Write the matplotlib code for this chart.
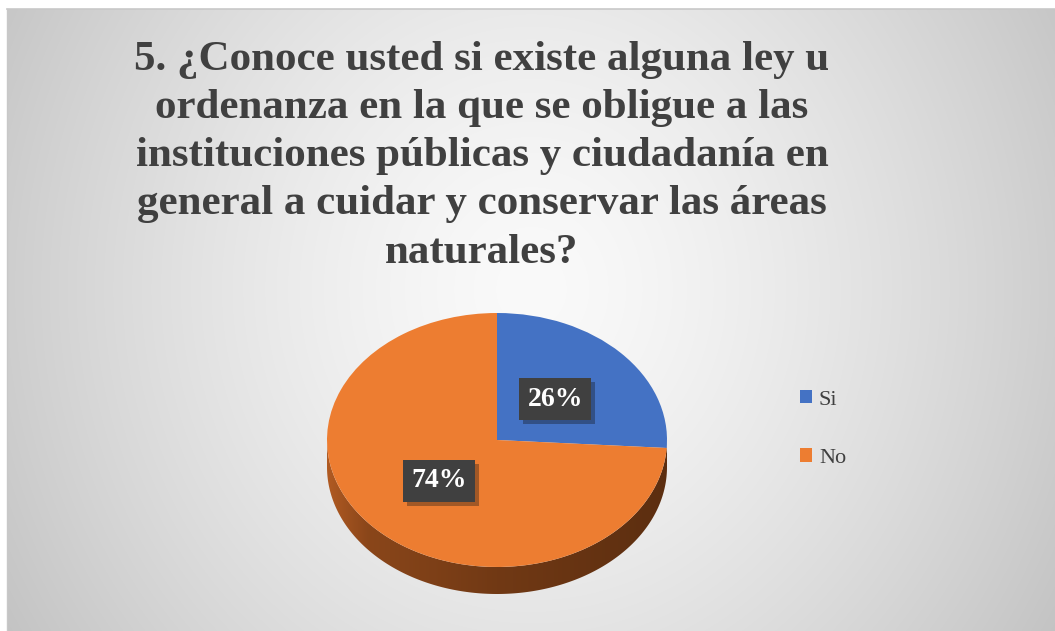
import numpy as np
import matplotlib.pyplot as plt
from matplotlib.patches import Polygon, Patch
import matplotlib.patheffects as pe

# Data
labels = ['Si', 'No']
values = [26, 74]
colors = ['#4472C4', '#ED7D31']
title = ('5. ¿Conoce usted si existe alguna ley u\n'
         'ordenanza en la que se obligue a las\n'
         'instituciones públicas y ciudadanía en\n'
         'general a cuidar y conservar las áreas\n'
         'naturales?')

W, H = 1055, 631
fig = plt.figure(figsize=(W / 100, H / 100), dpi=100)

# background: white margin with a grey radial gradient chart area
bg = fig.add_axes([0, 0, 1, 1])
bg.set_xlim(0, W)
bg.set_ylim(H, 0)
bg.axis('off')
yy, xx = np.mgrid[0:H - 9, 0:W - 7]
cx, cy = (W - 7) * 0.5, (H - 9) * 0.45
r = np.sqrt(((xx - cx) / cx) ** 2 + ((yy - cy) / (H - 9) * 1.1) ** 2) / 1.25
grey = np.clip(250 - 60 * r ** 1.4, 180, 255) / 255
bg.imshow(np.dstack([grey] * 3), extent=(7, W, H, 9), aspect='auto', zorder=0)
bg.plot([7, W], [8.5, 8.5], color='#c8c8c8', lw=1.2)
bg.plot([6.5, 6.5], [9, H], color='#c8c8c8', lw=1.0)

fig.text(482 / W, 1 - 41 / H, title, ha='center', va='top', fontsize=31,
         fontweight='bold', family='Liberation Serif', color='#404040',
         linespacing=1.35)

# pie axes (ellipse: rx=170px, ry=127px, centre at 497,440)
ax = fig.add_axes([320 / W, 21 / H, 354 / W, 310 / H])
depth = 27 / 127

# side of the 3D pie, with a horizontal gradient
t = np.linspace(np.pi, 2 * np.pi, 200)
side = np.concatenate([np.column_stack([np.cos(t), np.sin(t) - depth]),
                       np.column_stack([np.cos(t[::-1]), np.sin(t[::-1])])])
side_poly = Polygon(side, closed=True, fc='none', ec='none')
ax.add_patch(side_poly)
gx = np.linspace(0, 1, 300)
shade = np.interp(gx, [0, 0.12, 0.5, 1], [0.0, 0.45, 0.75, 1.0])
c1 = np.array([0xB0, 0x5A, 0x22]) / 255
c2 = np.array([0x5C, 0x2E, 0x10]) / 255
grad = (c1[None, :] * (1 - shade[:, None]) + c2[None, :] * shade[:, None])[None, :, :]
im = ax.imshow(grad, extent=(-1, 1, -1 - depth, 0), aspect='auto', zorder=1)
im.set_clip_path(side_poly)

wedges, texts, autotexts = ax.pie(values, colors=colors, startangle=90,
                                  counterclock=False, autopct='%1.0f%%',
                                  pctdistance=0.47,
                                  wedgeprops=dict(linewidth=0, zorder=2))
for w in wedges:
    w.set_zorder(2)
for at in autotexts:
    at.set_zorder(5)
    at.set_color('white')
    at.set_fontsize(20)
    at.set_fontweight('bold')
    at.set_family('Liberation Serif')
    at.set_bbox(dict(boxstyle='square,pad=0.3', fc='#404040', ec='none'))
    at.get_bbox_patch().set_path_effects(
        [pe.SimplePatchShadow(offset=(3, -3), alpha=0.35), pe.Normal()])

ax.set_aspect('auto')
ax.set_xlim(-177 / 170, 177 / 170)
ax.set_ylim(-170 / 127, 140 / 127)
ax.axis('off')

handles = [Patch(facecolor=c, edgecolor='none') for c in colors]
fig.legend(handles, labels, loc='center left',
           bbox_to_anchor=(780 / W, 1 - 429 / H), frameon=False,
           prop=dict(family='Liberation Serif', size=16),
           handlelength=0.55, handleheight=0.55, handletextpad=0.3,
           labelspacing=1.75, labelcolor='#404040')

fig.savefig('out.png', dpi=100)
